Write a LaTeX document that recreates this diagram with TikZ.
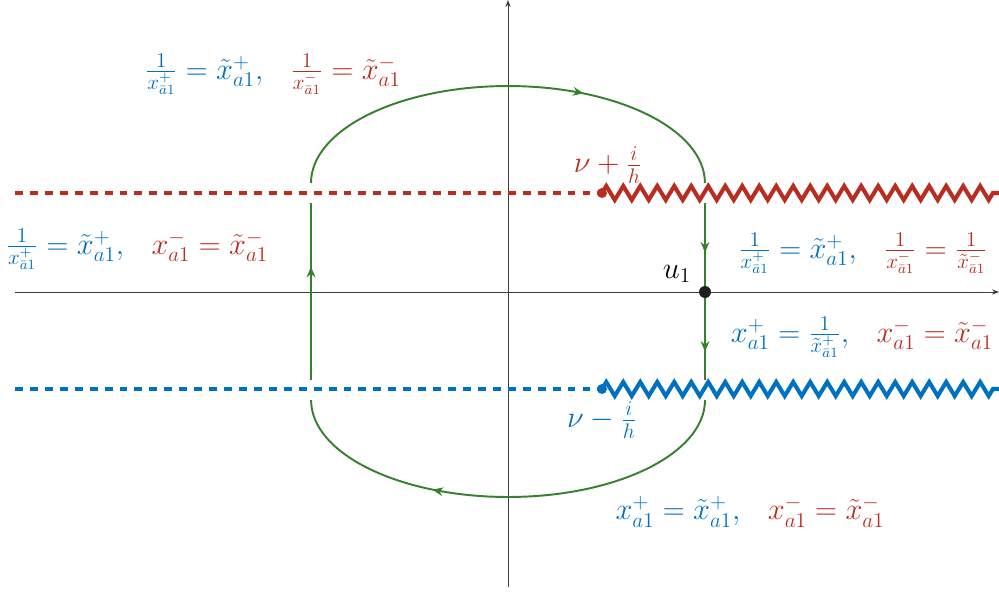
\documentclass[tikz,border=0pt]{standalone}
\usetikzlibrary{arrows.meta,decorations.pathmorphing,decorations.markings}
\definecolor{cred}{RGB}{185,45,32}
\definecolor{cblue}{RGB}{0,112,192}
\definecolor{cgreen}{RGB}{54,128,46}
\definecolor{caxis}{RGB}{60,60,60}
\newcommand{\sepsp}{\hspace{0.75em}}
\begin{document}
\begin{tikzpicture}[x=0.02cm,y=-0.02cm,
 axis/.style={draw=caxis,line width=0.5pt,-{Stealth[length=4pt,width=3pt]}},
 cut/.style={line width=2.3pt,dash pattern=on 4.5pt off 4pt},
 zz/.style={line width=2.3pt,decorate,decoration={zigzag,segment length=0.34cm,amplitude=0.14cm}},
 contour/.style={draw=cgreen,line width=1.1pt},
 lbl/.style={font=\fontsize{17}{20}\selectfont, inner sep=0pt},
 dot/.style={circle,fill=#1,inner sep=0pt,minimum size=0.2cm},
 midarrow/.style={postaction={decorate,decoration={markings,mark=at position #1 with {\arrow{Stealth[length=6pt,width=5pt]}}}}}
]
\useasboundingbox (0,0) rectangle (999,592);
% axes
\coordinate (xl) at (15,292);
\coordinate (xr) at (999,292);
\coordinate (yb) at (508,587);
\coordinate (yt) at (508,0);
\draw[axis] (xl) -- (xr);
\draw[axis] (yb) -- (yt);
% cuts
\coordinate (rl) at (15,193);
\coordinate (rr) at (999,193);
\coordinate (bl) at (15,389);
\coordinate (br) at (999,389);
\node[dot=cred] (pr) at (602,193) {};
\node[dot=cblue] (pb) at (602,389) {};
\draw[cred,cut] (rl) -- (pr.center);
\draw[cred,zz] (pr.center) -- (rr);
\draw[cblue,cut] (bl) -- (pb.center);
\draw[cblue,zz] (pb.center) -- (br);
% contour
\coordinate (c1) at (311,183);
\coordinate (c2) at (705,203);
\coordinate (c3) at (705,380);
\coordinate (c4) at (705,400);
\coordinate (c5) at (311,380);
\coordinate (c6) at (311,203);
\draw[contour,midarrow=0.66] (c1) arc[start angle=180,end angle=0,x radius=3.94cm,y radius=1.94cm];
\draw[contour,midarrow=0.28,midarrow=0.84] (c2) -- (c3);
\draw[contour,midarrow=0.66] (c4) arc[start angle=0,end angle=-180,x radius=3.94cm,y radius=1.94cm];
\draw[contour,midarrow=0.64] (c5) -- (c6);
\node[circle,fill=black!88,inner sep=0pt,minimum size=0.24cm] (u) at (705,292) {};
% labels
\node[lbl] (u1) at (677,274) {$u_1$};
\node[lbl,text=cred] (nup) at (608,165) {$\nu+\frac{i}{h}$};
\node[lbl,text=cblue] (num) at (602,420) {$\nu-\frac{i}{h}$};
\node[lbl] (ltop) at (273,74) {$\color{cblue}\frac{1}{x^+_{\bar a1}}=\tilde x^+_{a1},\sepsp \color{cred}\frac{1}{x^-_{\bar a1}}=\tilde x^-_{a1}$};
\node[lbl] (lleft) at (137,249) {$\color{cblue}\frac{1}{x^+_{\bar a1}}=\tilde x^+_{a1},\sepsp \color{cred}x^-_{a1}=\tilde x^-_{a1}$};
\node[lbl] (lru) at (863,253) {$\color{cblue}\frac{1}{x^+_{\bar a1}}=\tilde x^+_{a1},\sepsp \color{cred}\frac{1}{x^-_{\bar a1}}=\frac{1}{\tilde x^-_{\bar a1}}$};
\node[lbl] (lrl) at (862,337) {$\color{cblue}x^+_{a1}=\frac{1}{\tilde x^+_{\bar a1}},\sepsp \color{cred}x^-_{a1}=\tilde x^-_{a1}$};
\node[lbl] (lbot) at (750,512) {$\color{cblue}x^+_{a1}=\tilde x^+_{a1},\sepsp \color{cred}x^-_{a1}=\tilde x^-_{a1}$};
\end{tikzpicture}
\end{document}
